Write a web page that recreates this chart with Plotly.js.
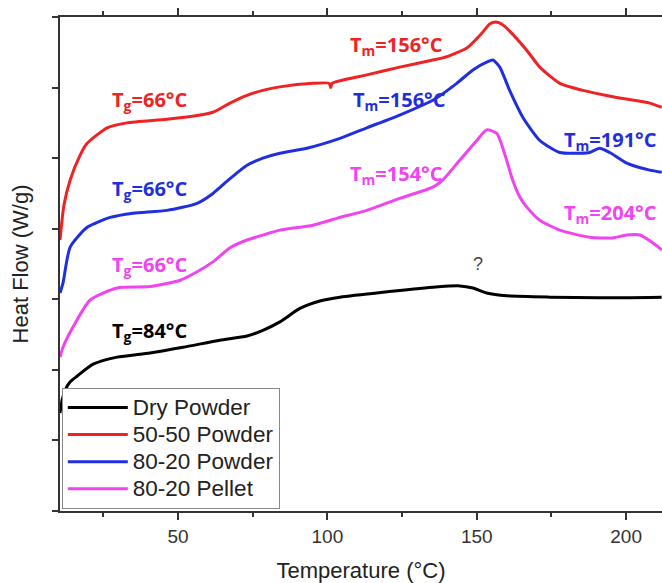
<!DOCTYPE html>
<html><head><meta charset="utf-8">
<script src="https://cdn.plot.ly/plotly-3.0.1.min.js"></script>
<style>html,body{margin:0;padding:0;background:#fff;overflow:hidden}</style>
</head><body><div id="chart" style="width:662px;height:583px"></div>
<script>
// Series names
const seriesNames = ["Dry Powder", "50-50 Powder", "80-20 Powder", "80-20 Pellet"];

// Dry Powder
const dryT  = [10.5, 11.2, 12.2, 13.9, 16.2, 21.6, 29.6, 40.6, 51.7, 64.0, 73.1, 78.4, 84.1, 90.8, 97.8, 104.2, 118.6, 135.3, 144.3, 148.7, 153.3, 160.0, 174.4, 191.1, 211.9];
const dryHF = [1.39, 1.57, 1.71, 1.83, 1.91, 2.08, 2.18, 2.24, 2.32, 2.42, 2.48, 2.56, 2.68, 2.87, 2.98, 3.03, 3.10, 3.17, 3.19, 3.16, 3.09, 3.05, 3.03, 3.02, 3.03];

// 50-50 Powder
const p5050T  = [10.5, 11.8, 13.9, 17.2, 19.6, 26.3, 32.9, 46.3, 57.4, 61.7, 67.4, 73.1, 78.4, 84.1, 95.2, 100.6, 101.1, 101.6, 113.2, 124.2, 135.3, 138.6, 146.7, 151.7, 154.3, 156.3, 158.3, 161.0, 166.7, 171.1, 177.8, 185.5, 196.8, 207.9, 211.9];
const p5050HF = [3.84, 4.33, 4.69, 5.04, 5.21, 5.43, 5.50, 5.55, 5.61, 5.65, 5.78, 5.89, 5.96, 6.01, 6.06, 6.06, 6.00, 6.06, 6.18, 6.29, 6.39, 6.42, 6.56, 6.77, 6.90, 6.93, 6.90, 6.80, 6.53, 6.29, 6.06, 5.96, 5.86, 5.78, 5.72];

// 80-20 Powder
const p8020T  = [10.5, 11.5, 13.9, 19.6, 27.3, 35.0, 46.3, 56.4, 61.7, 67.4, 73.1, 78.4, 84.1, 93.1, 104.2, 113.2, 124.2, 135.3, 143.3, 148.7, 153.3, 155.4, 157.7, 161.0, 165.4, 171.1, 177.8, 184.4, 187.8, 191.1, 194.5, 200.2, 207.9, 211.9];
const p8020HF = [3.09, 3.23, 3.74, 4.02, 4.16, 4.22, 4.26, 4.36, 4.50, 4.71, 4.90, 5.00, 5.07, 5.14, 5.28, 5.43, 5.61, 5.82, 6.06, 6.25, 6.36, 6.39, 6.29, 5.96, 5.58, 5.25, 5.08, 5.07, 5.08, 5.14, 5.08, 4.93, 4.83, 4.80];

// 80-20 Pellet
const pelT  = [10.5, 11.5, 14.9, 20.6, 29.6, 40.6, 50.7, 56.4, 61.7, 67.4, 73.1, 78.4, 84.1, 95.2, 104.2, 113.2, 124.2, 135.3, 138.6, 144.3, 150.0, 153.3, 156.7, 160.0, 162.0, 164.4, 166.7, 171.1, 177.8, 187.8, 195.5, 200.2, 204.6, 208.9, 211.9];
const pelHF = [2.18, 2.32, 2.61, 2.99, 3.16, 3.18, 3.27, 3.39, 3.53, 3.73, 3.84, 3.91, 3.98, 4.05, 4.16, 4.26, 4.43, 4.59, 4.69, 4.97, 5.25, 5.40, 5.35, 4.97, 4.69, 4.45, 4.31, 4.12, 3.98, 3.88, 3.87, 3.91, 3.91, 3.80, 3.70];

// Annotation labels
const labelText = ["T<sub>m</sub>=156°C", "T<sub>g</sub>=66°C", "T<sub>m</sub>=156°C", "T<sub>m</sub>=191°C", "T<sub>g</sub>=66°C", "T<sub>m</sub>=154°C", "T<sub>m</sub>=204°C", "T<sub>g</sub>=66°C", "T<sub>g</sub>=84°C", "?"];
const labelT  = [123.2, 40.3, 124.2, 194.8, 40.3, 123.2, 194.8, 40.3, 40.3, 150.3];
const labelHF = [6.60, 5.81, 5.82, 5.25, 4.55, 4.77, 4.22, 3.48, 2.55, 3.50];

const colors = ["#000000", "#ef2323", "#1f2fe0", "#f044f0"];
const labelColors = ["#ef2323", "#ef2323", "#1f2fe0", "#1f2fe0", "#1f2fe0", "#f044f0", "#f044f0", "#f044f0", "#000000", "#444444"];

const xs = [dryT, p5050T, p8020T, pelT];
const ys = [dryHF, p5050HF, p8020HF, pelHF];

const traces = seriesNames.map((n, i) => ({
  x: xs[i], y: ys[i], name: '<span style="font-size:22.5px">' + n + '</span>',
  type: "scatter", mode: "lines",
  line: {color: colors[i], width: 3, shape: "spline", smoothing: 0.6}
}));

const annotations = labelText.map((t, i) => ({
  x: labelT[i], y: labelHF[i], xref: "x", yref: "y", text: t, showarrow: false,
  xanchor: "center", yanchor: "middle",
  font: i === 9 ? {family: "Liberation Sans, Arial", size: 18, color: labelColors[i]}
                : {family: "Open Sans", size: 20, color: labelColors[i], weight: 700}
}));

const layout = {
  width: 662, height: 583,
  margin: {l: 60, r: 0, t: 17, b: 72},
  paper_bgcolor: "#fff", plot_bgcolor: "#fff",
  font: {family: "Liberation Sans, Arial", color: "#333"},
  showlegend: true,
  legend: {
    x: 0.003, y: 0.004, xanchor: "left", yanchor: "bottom",
    bgcolor: "#fff", bordercolor: "#888", borderwidth: 1,
    font: {size: 18.5, color: "#222"}, traceorder: "normal", itemwidth: 60
  },
  xaxis: {
    range: [10.5, 212], tick0: 0, dtick: 50,
    ticks: "outside", ticklen: 7, tickwidth: 2, tickcolor: "#333",
    minor: {dtick: 25, ticks: "outside", ticklen: 4, tickwidth: 2, tickcolor: "#333"},
    showline: true, linecolor: "#333", linewidth: 2, mirror: "ticks",
    showgrid: false, zeroline: false,
    tickfont: {size: 19, color: "#333"},
    title: {text: "Temperature (°C)", font: {size: 22, color: "#222"}, standoff: 19}
  },
  yaxis: {
    range: [0, 7], tick0: 0, dtick: 1,
    ticks: "outside", ticklen: 6, tickwidth: 2, tickcolor: "#333",
    showticklabels: false,
    showline: true, linecolor: "#333", linewidth: 2, mirror: false,
    showgrid: false, zeroline: false,
    title: {text: "Heat Flow (W/g)", font: {size: 22, color: "#222"}, standoff: 17}
  },
  annotations: annotations
};

Plotly.newPlot("chart", traces, layout, {displayModeBar: false, staticPlot: true});
</script>
</body></html>
